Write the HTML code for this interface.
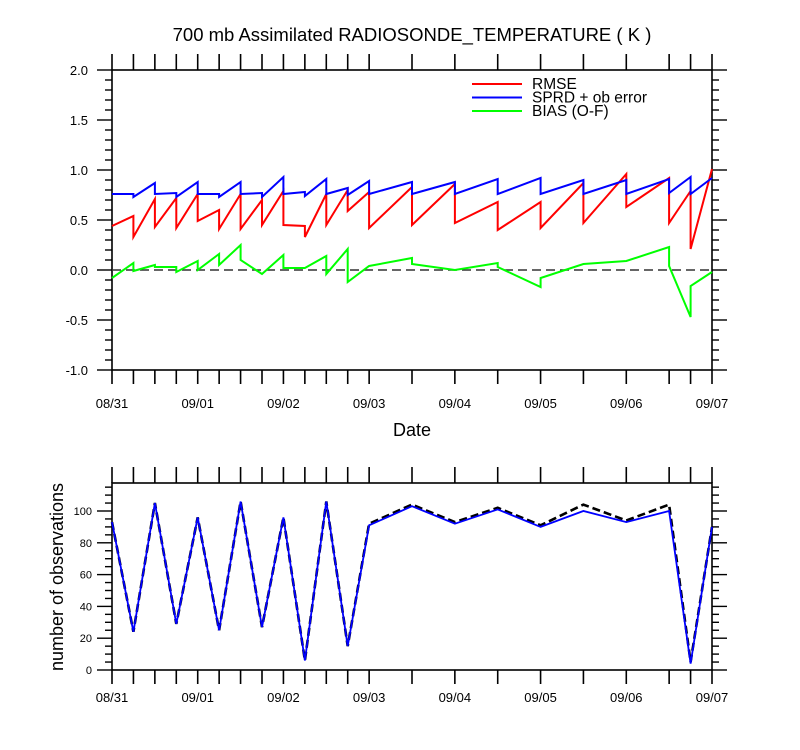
<!DOCTYPE html>
<html><head><meta charset="utf-8"><style>
body{margin:0;background:#fff}
svg{display:block;font-family:"Liberation Sans",Arial,sans-serif}
</style></head><body>
<svg id="c" width="800" height="750" viewBox="0 0 800 750"></svg>
<script>
const times=[0,0.25,0.5,0.75,1,1.25,1.5,1.75,2,2.25,2.5,2.75,3,3.5,4,4.5,5,5.5,6,6.5,6.75,7];
const dateLabels=["08/31","09/01","09/02","09/03","09/04","09/05","09/06","09/07"];
// sawtooth series: [time, value] incl. vertical jumps
const rmseT=[0,0.25,0.25,0.5,0.5,0.75,0.75,1,1,1.25,1.25,1.5,1.5,1.75,1.75,2,2,2.25,2.25,2.5,2.5,2.75,2.75,3,3,3.5,3.5,4,4,4.5,4.5,5,5,5.5,5.5,6,6,6.5,6.5,6.75,6.75,7];
const rmseV=[0.44,0.54,0.33,0.71,0.43,0.72,0.42,0.76,0.49,0.60,0.41,0.76,0.41,0.70,0.45,0.79,0.45,0.44,0.33,0.76,0.45,0.80,0.59,0.78,0.42,0.83,0.45,0.86,0.47,0.68,0.40,0.68,0.42,0.87,0.47,0.96,0.63,0.92,0.47,0.79,0.21,1.01];
const sprdT=[0,0.25,0.25,0.5,0.5,0.75,0.75,1,1,1.25,1.25,1.5,1.5,1.75,1.75,2,2,2.25,2.25,2.5,2.5,2.75,2.75,3,3,3.5,3.5,4,4,4.5,4.5,5,5,5.5,5.5,6,6,6.5,6.5,6.75,6.75,7];
const sprdV=[0.76,0.76,0.73,0.87,0.76,0.77,0.73,0.88,0.76,0.76,0.73,0.88,0.76,0.77,0.73,0.93,0.76,0.78,0.74,0.91,0.76,0.82,0.75,0.89,0.76,0.88,0.76,0.88,0.76,0.91,0.76,0.92,0.76,0.90,0.76,0.90,0.76,0.91,0.77,0.93,0.76,0.92];
const biasT=[0,0.25,0.25,0.5,0.5,0.75,0.75,1,1,1.25,1.25,1.5,1.5,1.75,2,2,2.25,2.5,2.5,2.75,2.75,3,3.5,3.5,4,4.5,4.5,5,5,5.5,6,6.5,6.5,6.75,6.75,7];
const biasV=[-0.08,0.07,-0.01,0.05,0.03,0.03,-0.02,0.09,0.0,0.16,0.05,0.25,0.10,-0.04,0.15,0.02,0.02,0.14,-0.04,0.21,-0.12,0.04,0.12,0.06,0.0,0.07,0.03,-0.17,-0.08,0.06,0.09,0.23,0.04,-0.47,-0.16,-0.02];
const obsAll=[93,24,105,29,96,25,106,27,96,6,106,15,92,104,93,102,91,104,94,104,5,90];
const obsUsed=[93,24,105,29,96,25,106,27,96,6,106,15,91,103,92,101,90,100,93,100,4,90];
const yTicksTop=[-1.0,-0.5,0.0,0.5,1.0,1.5,2.0];
const yTicksBot=[0,20,40,60,80,100];

const svg=document.getElementById('c');
const NS='http://www.w3.org/2000/svg';
function mk(tag,attrs,parent){const e=document.createElementNS(NS,tag);for(const k in attrs)e.setAttribute(k,attrs[k]);(parent||svg).appendChild(e);return e;}
const X0=112,X1=712;
const xs=t=>X0+(X1-X0)*t/7;
const yT=v=>70+(2-v)*100;
const yB=v=>670-v*1.59;

// title
let e=mk('text',{x:412,y:41,'text-anchor':'middle','font-size':18.5});e.textContent='700 mb Assimilated RADIOSONDE_TEMPERATURE ( K )';



function frame(top,bot,name,lblOff){
  const r=mk('rect',{x:X0,y:top,width:X1-X0,height:bot-top,fill:'none',stroke:'#000','stroke-width':1.6});
  
  
  times.forEach(t=>{
    const x=xs(t);
    mk('line',{x1:x,x2:x,y1:bot,y2:bot+14,stroke:'#000','stroke-width':1.6});
    mk('line',{x1:x,x2:x,y1:top,y2:top-16,stroke:'#000','stroke-width':1.6});
  });
  dateLabels.forEach((d,i)=>{
    const l=mk('text',{x:xs(i),y:bot+lblOff,'text-anchor':'middle','font-size':13});l.textContent=d;
    
    
  });
}

// ---------- top plot ----------
frame(70,370,'top-plot-frame',38);
for(let v=-1;v<=2.001;v+=0.1){
  const y=yT(v);const major=Math.abs(v*2-Math.round(v*2))<1e-6;
  const L=major?15:7;
  mk('line',{x1:X0-L,x2:X0,y1:y,y2:y,stroke:'#000','stroke-width':1.4});
  mk('line',{x1:X1,x2:X1+L,y1:y,y2:y,stroke:'#000','stroke-width':1.4});
}
yTicksTop.forEach(v=>{
  const l=mk('text',{x:88,y:yT(v)+5,'text-anchor':'end','font-size':13});l.textContent=v.toFixed(1);
  
  
});
e=mk('line',{x1:X0,x2:X1,y1:yT(0),y2:yT(0),stroke:'#333','stroke-width':1.6,'stroke-dasharray':'9,5'});


function series(T,V,ys,color,name,dash,w){
  const p=T.map((t,i)=>(i?'L':'M')+xs(t).toFixed(1)+','+ys(V[i]).toFixed(1)).join('');
  const a={d:p,fill:'none',stroke:color,'stroke-width':w||2};
  if(dash)a['stroke-dasharray']=dash;
  const s=mk('path',a);
  
  
}
series(rmseT,rmseV,yT,'#ff0000','rmse-line');
series(sprdT,sprdV,yT,'#0000ff','sprd-line');
series(biasT,biasV,yT,'#00ff00','bias-line');
// legend
[['RMSE','#ff0000'],['SPRD + ob error','#0000ff'],['BIAS (O-F)','#00ff00']].forEach((d,i)=>{
  const y=84+i*13.5;
  const g=mk('g',{});
  
  
  mk('line',{x1:472,x2:522,y1:y,y2:y,stroke:d[1],'stroke-width':2},g);
  const t=mk('text',{x:532,y:y+5,'font-size':15.5},g);t.textContent=d[0];
});
e=mk('text',{x:412,y:436,'text-anchor':'middle','font-size':18});e.textContent='Date';



// ---------- bottom plot ----------
const BT=483,BB=670;
frame(BT,BB,'bottom-plot-frame',32);
for(let v=0;v<=115;v+=5){
  const y=yB(v);const major=v%20===0;const L=major?15:7;
  mk('line',{x1:X0-L,x2:X0,y1:y,y2:y,stroke:'#000','stroke-width':1.4});
  mk('line',{x1:X1,x2:X1+L,y1:y,y2:y,stroke:'#000','stroke-width':1.4});
}
yTicksBot.forEach(v=>{
  const l=mk('text',{x:92,y:yB(v)+4,'text-anchor':'end','font-size':11});l.textContent=v;
  
  
});
series(times,obsAll,yB,'#000','obs-total-line','8,4',2.6);
series(times,obsUsed,yB,'#0000ff','obs-used-line',null,1.8);
e=mk('text',{x:0,y:0,'text-anchor':'middle','font-size':18,transform:'translate(63,577) rotate(-90)'});e.textContent='number of observations';


</script>
</body></html>
